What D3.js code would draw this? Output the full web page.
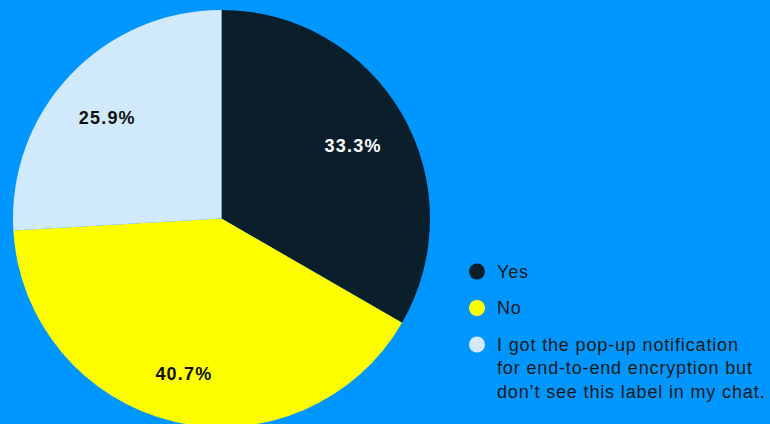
<!DOCTYPE html>
<html>
<head>
<meta charset="utf-8">
<script src="https://cdn.jsdelivr.net/npm/d3@7"></script>
<style>
  html, body { margin: 0; padding: 0; background: #0096ff; }
  svg { display: block; }
</style>
</head>
<body>
<div id="chart"></div>
<script>
const categories = ['Yes', 'No', 'I got the pop-up notification for end-to-end encryption but don\u2019t see this label in my chat.'];
const legendLines = [['Yes'], ['No'], ['I got the pop-up notification', 'for end-to-end encryption but', 'don\u2019t see this label in my chat.']];
const values = [33.3, 40.7, 25.9];
const colors = ['#0a1e2b', '#ffff00', '#d0e9fb'];
const labelColors = ['#ffffff', '#111111', '#111111'];

(function() {
  const width = 770, height = 424;
  const cx = 221.5, cy = 218.5, radius = 208.5;

  const svg = d3.select('#chart').append('svg')
    .attr('width', width)
    .attr('height', height);

  svg.append('rect')
    .attr('width', width)
    .attr('height', height)
    .attr('fill', '#0096ff');

  const data = categories.map((c, i) => ({ name: c, value: values[i], i }));

  const pie = d3.pie().sort(null).value(d => d.value);
  const arc = d3.arc().innerRadius(0).outerRadius(radius);
  const labelArc = d3.arc().innerRadius(radius * 0.74).outerRadius(radius * 0.74);

  const g = svg.append('g').attr('transform', `translate(${cx},${cy})`);
  const arcs = pie(data);

  g.selectAll('path.slice')
    .data(arcs)
    .enter()
    .append('path')
    .attr('class', 'slice')
    .attr('d', arc)
    .attr('fill', d => colors[d.data.i]);

  g.selectAll('text.pct')
    .data(arcs)
    .enter()
    .append('text')
    .attr('class', 'pct')
    .attr('transform', d => {
      const [x, y] = labelArc.centroid(d);
      return `translate(${x - 2},${y + 5})`;
    })
    .attr('text-anchor', 'middle')
    .attr('dominant-baseline', 'central')
    .attr('font-family', 'Liberation Sans, Arial, sans-serif')
    .attr('font-weight', 'bold')
    .attr('font-size', 18)
    .attr('letter-spacing', 1.2)
    .attr('fill', d => labelColors[d.data.i])
    .text(d => d.data.value.toFixed(1) + '%');

  // Legend
  const legend = svg.append('g').attr('transform', 'translate(477,0)');
  const rowY = [271.5, 308, 344.5];
  const lineH = 23.5;

  const items = legend.selectAll('g.item')
    .data(data)
    .enter()
    .append('g')
    .attr('class', 'item')
    .attr('transform', (d, i) => `translate(0,${rowY[i]})`);

  items.append('circle')
    .attr('r', 8)
    .attr('fill', d => colors[d.i]);

  items.append('text')
    .attr('x', 20)
    .attr('font-family', 'Liberation Sans, Arial, sans-serif')
    .attr('font-size', 18)
    .attr('letter-spacing', 0.85)
    .attr('fill', '#1a1a1a')
    .selectAll('tspan')
    .data(d => legendLines[d.i])
    .enter()
    .append('tspan')
    .attr('x', 20)
    .attr('y', (d, j) => j * lineH)
    .attr('dominant-baseline', 'central')
    .text(d => d);
})();
</script>
</body>
</html>
